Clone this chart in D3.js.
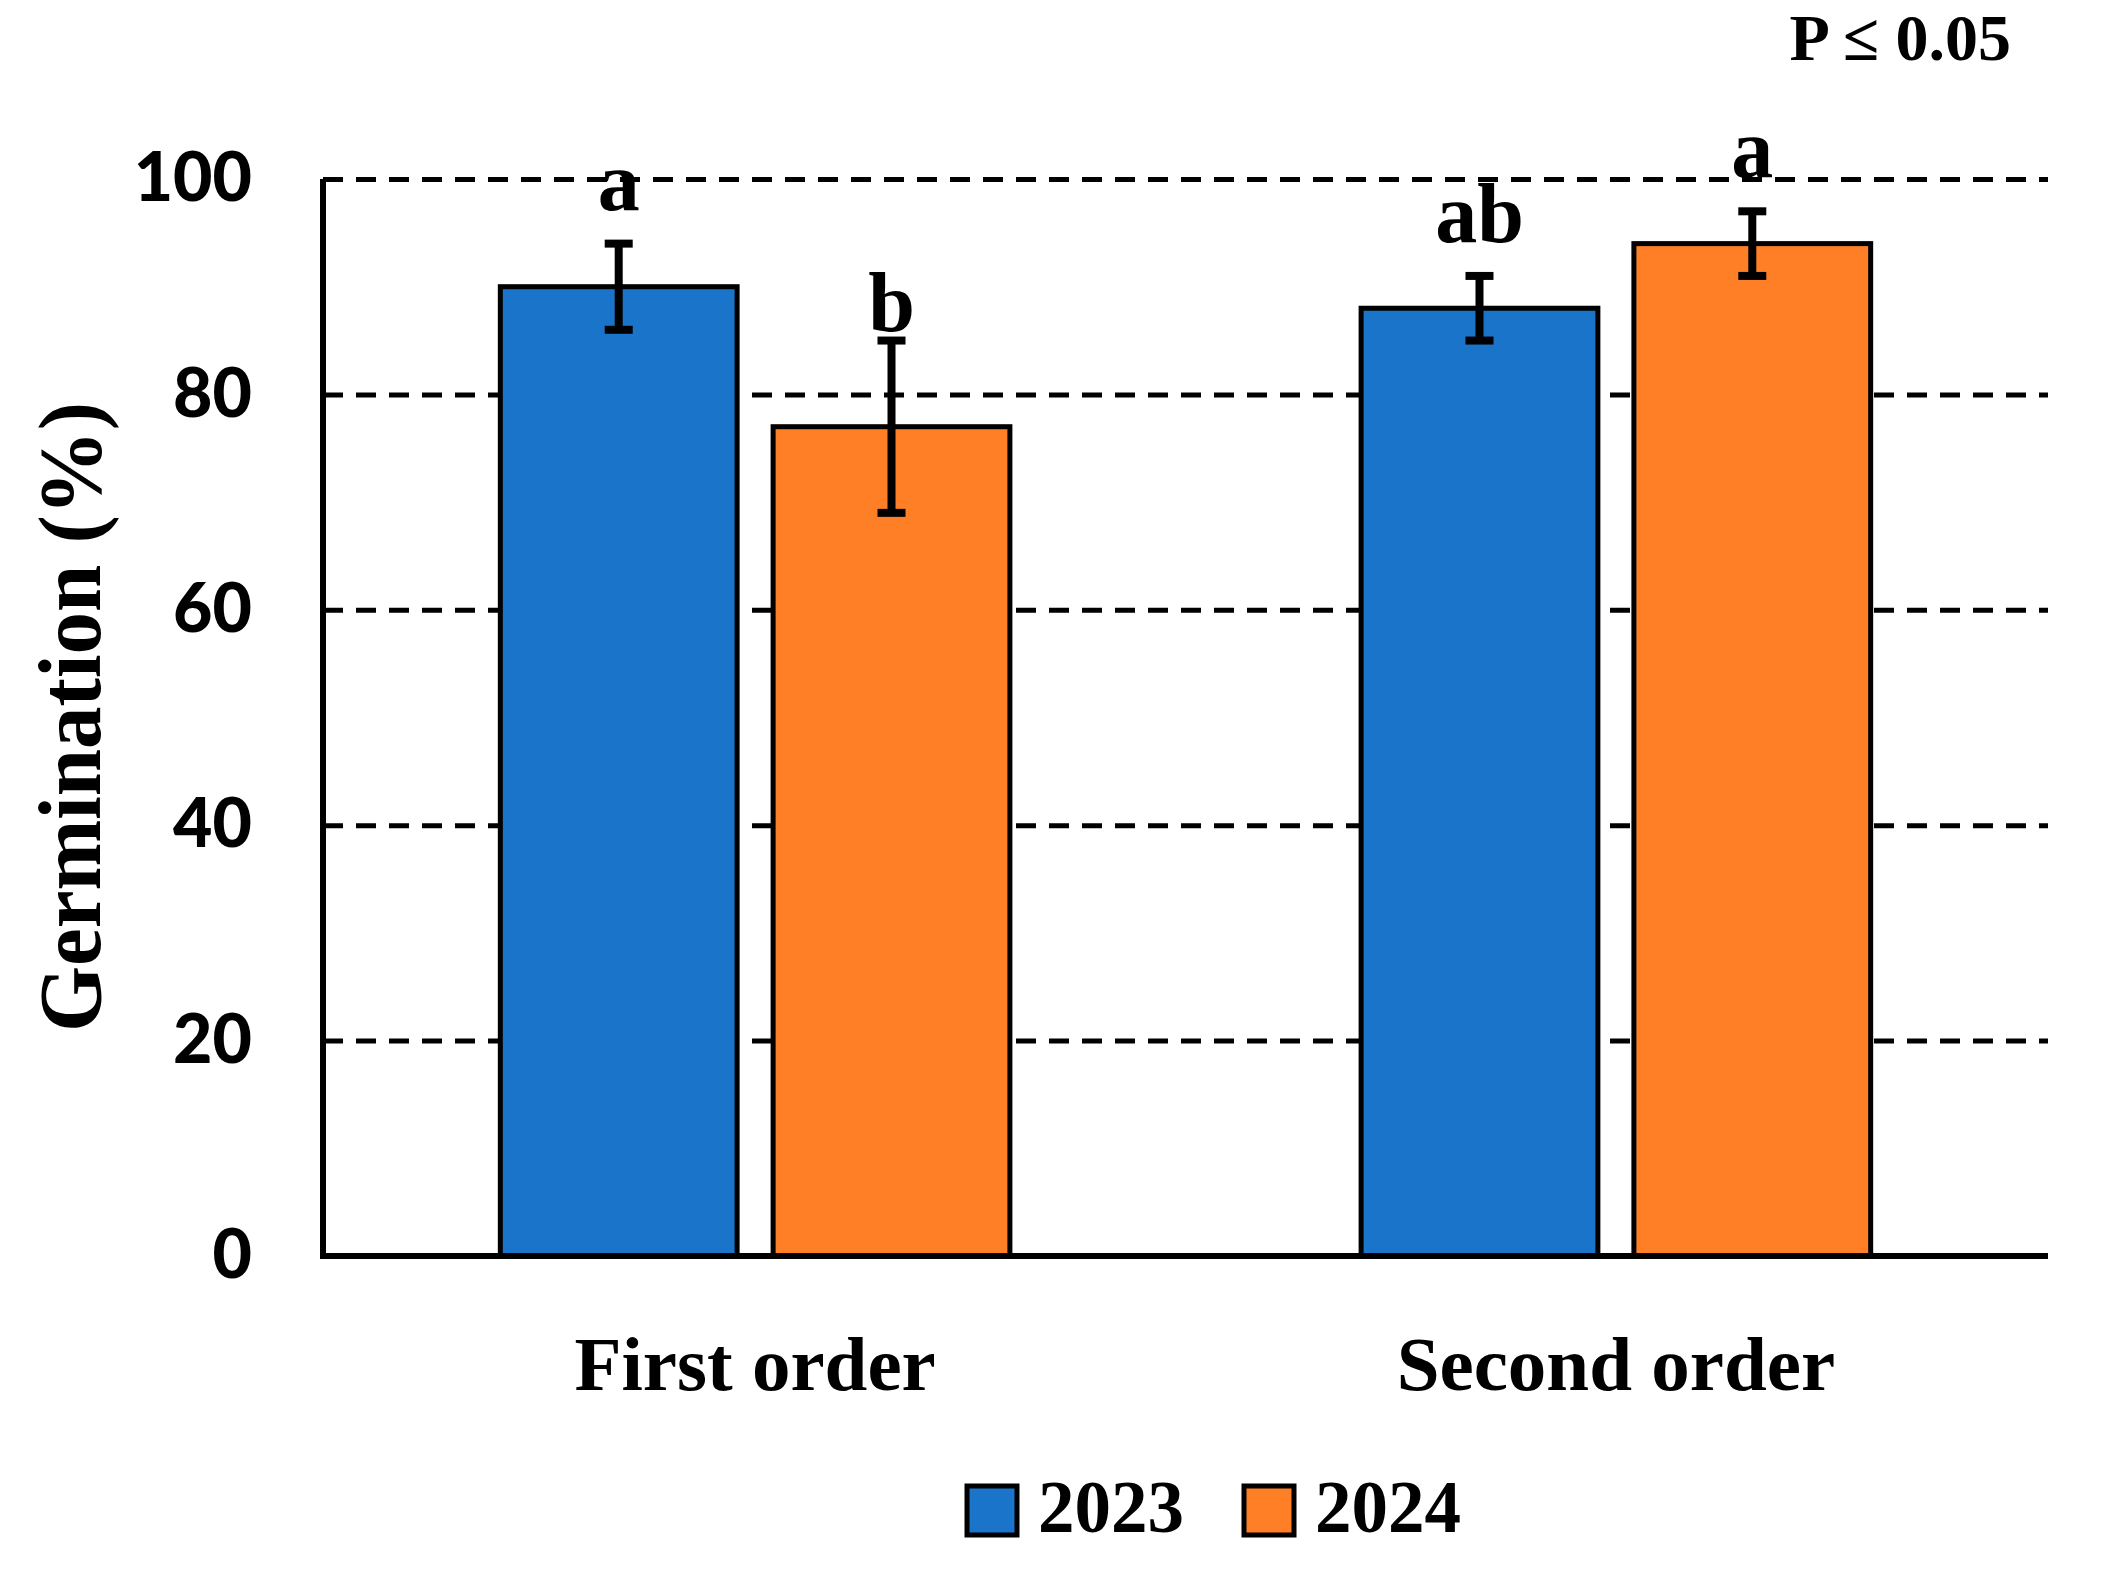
<!DOCTYPE html>
<html>
<head>
<meta charset="utf-8">
<script src="https://cdn.jsdelivr.net/npm/d3@7"></script>
<style>
  body { margin: 0; background: #fff; }
</style>
</head>
<body>
<div id="chart"></div>
<script>
// Data
const categories = ["First order", "Second order"];
const years = ["2023", "2024"];
const germ2023 = [90, 88];
const germ2024 = [77, 94];
const err2023 = [4, 3];
const err2024 = [8, 3];
const letters2023 = ["a", "ab"];
const letters2024 = ["b", "a"];
const yTicks = [0, 20, 40, 60, 80, 100];
const colors = ["#1a74c9", "#ff7f27"];

const serif = "'Liberation Serif', 'Times New Roman', serif";
const sans = "Lato, 'Open Sans', sans-serif";

// Dimensions
const W = 2102, H = 1574;
const margin = { top: 179, right: 54, bottom: 318, left: 323 };
const width = W - margin.left - margin.right;
const height = H - margin.top - margin.bottom;

const rows = [];
categories.forEach((c, i) => {
  rows.push({ cat: c, year: years[0], value: germ2023[i], err: err2023[i], letter: letters2023[i] });
  rows.push({ cat: c, year: years[1], value: germ2024[i], err: err2024[i], letter: letters2024[i] });
});

const svgRoot = d3.select("#chart")
  .append("svg")
  .attr("width", W)
  .attr("height", H);

const svg = svgRoot.append("g")
  .attr("transform", `translate(${margin.left},${margin.top})`);

// Scales
const x0 = d3.scaleBand()
  .domain(categories)
  .range([0, width])
  .paddingInner(0.408)
  .paddingOuter(0.206);

const x1 = d3.scaleBand()
  .domain(years)
  .range([0, x0.bandwidth()])
  .paddingInner(0.132);

const y = d3.scaleLinear()
  .domain([0, 100])
  .range([height, 0]);

const color = d3.scaleOrdinal().domain(years).range(colors);

// Dashed gridlines
svg.append("g")
  .attr("class", "grid")
  .call(d3.axisLeft(y).tickValues(yTicks.slice(1)).tickSize(-width).tickFormat(""))
  .call(g => g.select(".domain").remove())
  .selectAll("line")
  .attr("stroke", "#000")
  .attr("stroke-width", 5)
  .attr("stroke-dasharray", "20,13");

// Y axis tick labels
svg.append("g")
  .call(d3.axisLeft(y).tickValues(yTicks).tickSize(0).tickPadding(71))
  .call(g => g.select(".domain").remove())
  .selectAll("text")
  .style("font-family", sans)
  .style("font-weight", "900")
  .style("font-size", "68px")
  .attr("fill", "#000");

// Bars
const groups = svg.selectAll(".cat")
  .data(categories)
  .join("g")
  .attr("class", "cat")
  .attr("transform", d => `translate(${x0(d)},0)`);

groups.selectAll("rect")
  .data(c => rows.filter(r => r.cat === c))
  .join("rect")
  .attr("x", d => x1(d.year))
  .attr("y", d => y(d.value))
  .attr("width", x1.bandwidth())
  .attr("height", d => height - y(d.value))
  .attr("fill", d => color(d.year))
  .attr("stroke", "#000")
  .attr("stroke-width", 5);

// Error bars
const capW = 28;
const eb = groups.selectAll(".err")
  .data(c => rows.filter(r => r.cat === c))
  .join("g")
  .attr("class", "err")
  .attr("transform", d => `translate(${x1(d.year) + x1.bandwidth() / 2},0)`);

eb.append("line")
  .attr("y1", d => y(d.value - d.err))
  .attr("y2", d => y(d.value + d.err))
  .attr("stroke", "#000")
  .attr("stroke-width", 8);

eb.append("line")
  .attr("x1", -capW / 2).attr("x2", capW / 2)
  .attr("y1", d => y(d.value + d.err)).attr("y2", d => y(d.value + d.err))
  .attr("stroke", "#000")
  .attr("stroke-width", 8);

eb.append("line")
  .attr("x1", -capW / 2).attr("x2", capW / 2)
  .attr("y1", d => y(d.value - d.err)).attr("y2", d => y(d.value - d.err))
  .attr("stroke", "#000")
  .attr("stroke-width", 8);

// Significance letters
eb.append("text")
  .attr("y", d => y(d.value + d.err) - (d.letter === "b" ? 10 : 34))
  .attr("text-anchor", "middle")
  .style("font-family", serif)
  .style("font-weight", "bold")
  .style("font-size", "84px")
  .text(d => d.letter);

// Axis lines
svg.append("line")
  .attr("x1", 0).attr("x2", 0)
  .attr("y1", y(100)).attr("y2", height + 3)
  .attr("stroke", "#000")
  .attr("stroke-width", 6);

svg.append("line")
  .attr("x1", -3).attr("x2", width)
  .attr("y1", height).attr("y2", height)
  .attr("stroke", "#000")
  .attr("stroke-width", 6);

// Category labels
svg.append("g")
  .selectAll("text")
  .data(categories)
  .join("text")
  .attr("x", d => x0(d) + x0.bandwidth() / 2)
  .attr("y", height + 134)
  .attr("text-anchor", "middle")
  .style("font-family", serif)
  .style("font-weight", "bold")
  .style("font-size", "77px")
  .text(d => d);

// Y axis title
svgRoot.append("text")
  .attr("transform", "translate(100,717) rotate(-90)")
  .attr("text-anchor", "middle")
  .style("font-family", serif)
  .style("font-weight", "bold")
  .style("font-size", "88px")
  .attr("textLength", 630)
  .attr("lengthAdjust", "spacingAndGlyphs")
  .text("Germination (%)");

// P value note
svgRoot.append("text")
  .attr("x", 2011)
  .attr("y", 60)
  .attr("text-anchor", "end")
  .style("font-family", serif)
  .style("font-weight", "bold")
  .style("font-size", "66px")
  .text("P \u2264 0.05");

// Legend
const legend = svgRoot.append("g")
  .selectAll("g")
  .data(years)
  .join("g")
  .attr("transform", (d, i) => `translate(${967 + i * 277},1486)`);

legend.append("rect")
  .attr("width", 50)
  .attr("height", 49)
  .attr("fill", d => color(d))
  .attr("stroke", "#000")
  .attr("stroke-width", 5);

legend.append("text")
  .attr("x", 71)
  .attr("y", 46)
  .style("font-family", serif)
  .style("font-weight", "bold")
  .style("font-size", "73px")
  .text(d => d);
</script>
</body>
</html>
